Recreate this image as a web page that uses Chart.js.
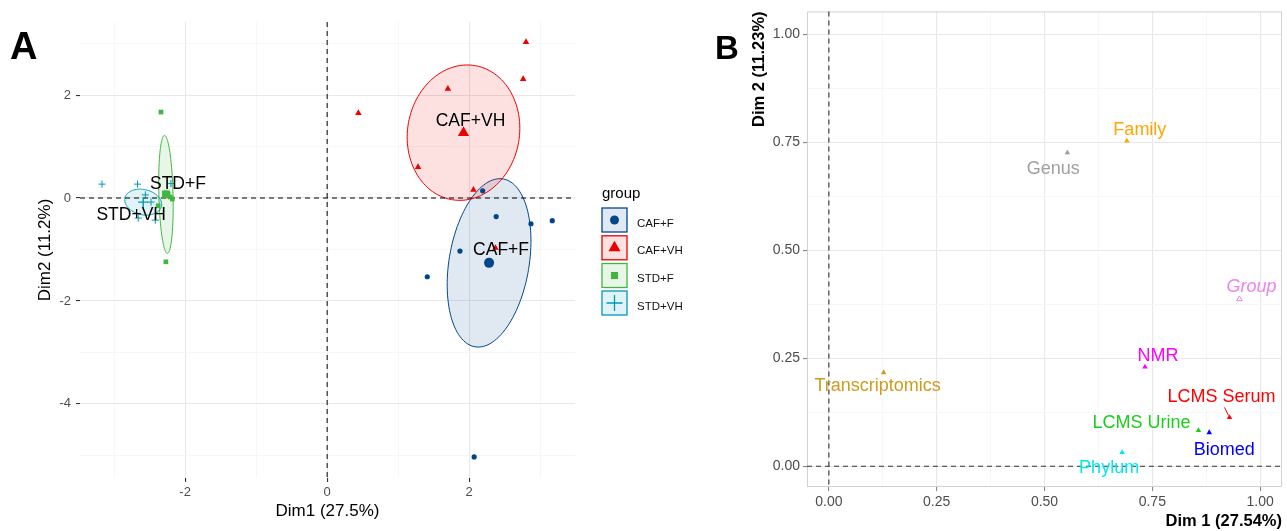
<!DOCTYPE html>
<html>
<head>
<meta charset="utf-8">
<script src="https://cdn.jsdelivr.net/npm/chart.js"></script>
<style>
  body { margin: 0; background: #fff; width: 1287px; height: 531px; overflow: hidden; position: relative; font-family: "Liberation Sans", Arial, sans-serif; }
  #boxA { position: absolute; left: 0; top: 0; width: 700px; height: 531px; }
  #boxB { position: absolute; left: 700px; top: 0; width: 587px; height: 531px; }
  .tag { position: absolute; font-weight: bold; line-height: 1; color: #000; }
</style>
</head>
<body>
<div id="boxA"><canvas id="pca_ind" width="700" height="531"></canvas></div>
<div id="boxB"><canvas id="pca_var" width="587" height="531"></canvas></div>
<div class="tag" style="left:10px;top:27px;font-size:38px">A</div>
<div class="tag" style="left:715px;top:31px;font-size:33px">B</div>
<script>
Chart.defaults.font.family = '"Liberation Sans", Arial, sans-serif';

//Panel A - individuals
const groupNames = ['CAF+F', 'CAF+VH', 'STD+F', 'STD+VH'];
const cafF_dim1  = [2.19, 2.38, 2.87, 3.17, 1.87, 1.41, 2.07];
const cafF_dim2  = [0.14, -0.36, -0.50, -0.44, -1.03, -1.53, -5.03];
const cafVH_dim1 = [2.80, 2.76, 1.70, 0.44, 1.28, 2.06, 2.37];
const cafVH_dim2 = [3.03, 2.31, 2.12, 1.65, 0.60, 0.16, -0.97];
const stdF_dim1  = [-2.34, -2.27, -2.38, -2.18, -2.27, -2.24, -2.21];
const stdF_dim2  = [1.67, 0.10, -0.15, -0.02, -1.24, 0.08, 0.02];
const stdVH_dim1 = [-3.17, -2.67, -2.56, -2.66, -2.42, -2.48, -2.20];
const stdVH_dim2 = [0.27, 0.27, 0.06, -0.39, -0.43, -0.08, 0.28];
const meanDim1 = [2.28, 1.92, -2.27, -2.59];
const meanDim2 = [-1.26, 1.27, 0.07, -0.08];
// ellipse half axes, in Dim1/Dim2 units
const ellipseU = [[0.197, 1.631], [0.169, 1.301], [-0.02, 1.146], [0.254, -0.097]];
const ellipseV = [[0.556, -0.128], [0.775, -0.194], [0.10, 0.0], [-0.056, -0.233]];
const ticksDim1A = [-3, -2, -1, 0, 1, 2, 3];
const labelledDim1A = [-2, 0, 2];
const ticksDim2A = [-5, -4, -3, -2, -1, 0, 1, 2, 3];
const labelledDim2A = [-4, -2, 0, 2];

//Panel B - variables
const varNames = ['Genus', 'Family', 'Group', 'NMR', 'LCMS Serum', 'LCMS Urine', 'Biomed', 'Phylum', 'Transcriptomics'];
const varDim1 = [0.553, 0.691, 0.952, 0.733, 0.929, 0.857, 0.882, 0.680, 0.127];
const varDim2 = [0.726, 0.753, 0.387, 0.230, 0.113, 0.083, 0.078, 0.032, 0.217];
const ticksB = [0, 0.125, 0.25, 0.375, 0.5, 0.625, 0.75, 0.875, 1];
const labelledB = [0, 0.25, 0.5, 0.75, 1];

// styles
const groupColors = ['#00468B', '#ED0000', '#42B540', '#0099B4'];
const groupShapes = ['circle', 'triangle', 'rect', 'cross'];
const groupRadius = [2.6, 3.8, 3.3, 3.6];
const meanRadius = [5, 6.5, 5.5, 5];
const groupLabelShift = [[12, -13], [7, -11], [12, -10], [-12, 13]];
const varColors = ['#A0A0A0', '#FFA500', '#EE82EE', '#FF00FF', '#FF0000', '#1ECC1E', '#0000FF', '#00E8EE', '#CD9B1D'];
const varLabelShift = [[-14, 16], [13, -11], [12, -12], [13, -11], [-8, -20], [-57, -7], [15, 17], [-13, 16], [-6, 14]];

function pts(xs, ys) {
  return xs.map((v, i) => ({x: v, y: ys[i]}));
}
function fade(hex, a) {
  const n = parseInt(hex.slice(1), 16);
  return 'rgba(' + (n >> 16) + ',' + ((n >> 8) & 255) + ',' + (n & 255) + ',' + a + ')';
}

const groupDim1 = [cafF_dim1, cafVH_dim1, stdF_dim1, stdVH_dim1];
const groupDim2 = [cafF_dim2, cafVH_dim2, stdF_dim2, stdVH_dim2];

var datasetsA = [];
groupNames.forEach((g, i) => {
  datasetsA.push({
    label: g,
    data: pts(groupDim1[i], groupDim2[i]),
    pointStyle: groupShapes[i],
    pointRadius: groupRadius[i],
    backgroundColor: groupColors[i],
    borderColor: groupColors[i],
    borderWidth: groupShapes[i] == 'cross' ? 1 : 0,
    showLine: false
  });
  datasetsA.push({
    label: g + ' mean',
    data: [{x: meanDim1[i], y: meanDim2[i]}],
    pointStyle: groupShapes[i],
    pointRadius: meanRadius[i],
    backgroundColor: groupColors[i],
    borderColor: groupColors[i],
    borderWidth: groupShapes[i] == 'cross' ? 1.4 : 0,
    showLine: false
  });
});

const decorA = {
  id: 'decorA',
  beforeDatasetsDraw(chart) {
    const {ctx, chartArea: ca, scales: {x, y}} = chart;
    ctx.save();
    groupNames.forEach((g, i) => {
      ctx.beginPath();
      for (let k = 0; k <= 120; k++) {
        const t = k / 120 * 2 * Math.PI;
        const px = x.getPixelForValue(meanDim1[i] + ellipseU[i][0] * Math.cos(t) + ellipseV[i][0] * Math.sin(t));
        const py = y.getPixelForValue(meanDim2[i] + ellipseU[i][1] * Math.cos(t) + ellipseV[i][1] * Math.sin(t));
        if (k == 0) ctx.moveTo(px, py); else ctx.lineTo(px, py);
      }
      ctx.closePath();
      ctx.fillStyle = fade(groupColors[i], 0.12);
      ctx.fill();
      ctx.lineWidth = 1;
      ctx.strokeStyle = groupColors[i];
      ctx.stroke();
    });
    // zero lines
    const x0 = x.getPixelForValue(0), y0 = y.getPixelForValue(0);
    ctx.strokeStyle = '#000';
    ctx.lineWidth = 1;
    ctx.setLineDash([5, 4]);
    ctx.beginPath();
    ctx.moveTo(x0, ca.top); ctx.lineTo(x0, ca.bottom);
    ctx.moveTo(ca.left, y0); ctx.lineTo(ca.right, y0);
    ctx.stroke();
    ctx.restore();
  },
  afterDatasetsDraw(chart) {
    const {ctx, scales: {x, y}} = chart;
    ctx.save();
    ctx.fillStyle = '#000';
    ctx.font = '17.5px "Liberation Sans", Arial';
    ctx.textAlign = 'center';
    ctx.textBaseline = 'middle';
    groupNames.forEach((g, i) => {
      ctx.fillText(g, x.getPixelForValue(meanDim1[i]) + groupLabelShift[i][0], y.getPixelForValue(meanDim2[i]) + groupLabelShift[i][1]);
    });
    // legend
    ctx.textAlign = 'left';
    ctx.textBaseline = 'alphabetic';
    ctx.font = '15px "Liberation Sans", Arial';
    ctx.fillText('group', 602, 198);
    ctx.font = '11.5px "Liberation Sans", Arial';
    const rows = [220, 247.8, 275.5, 303];
    groupNames.forEach((g, i) => {
      const cy = rows[i];
      ctx.fillStyle = fade(groupColors[i], 0.12);
      ctx.fillRect(602, cy - 12, 25, 24);
      ctx.strokeStyle = groupColors[i];
      ctx.lineWidth = 1.3;
      ctx.strokeRect(602, cy - 12, 25, 24);
      ctx.fillStyle = groupColors[i];
      Chart.helpers.drawPoint(ctx, {
        pointStyle: groupShapes[i],
        radius: [4.5, 7, 5, 8][i],
        rotation: 0,
        borderWidth: groupShapes[i] == 'cross' ? 1 : 0
      }, 614.5, cy);
      ctx.fillStyle = '#111';
      ctx.fillText(g, 637, cy + 6.5);
    });
    ctx.restore();
  }
};

function gridOpts(isMajor, tickCol) {
  return {
    color: c => (c.tick && isMajor(c.tick.value)) ? '#e8e8e8' : '#f4f4f4',
    lineWidth: c => (c.tick && isMajor(c.tick.value)) ? 1.1 : 0.7,
    tickColor: c => (c.tick && isMajor(c.tick.value)) ? tickCol : 'rgba(0,0,0,0)',
    tickLength: 4,
    drawTicks: true
  };
}

var chart_ind = new Chart(document.getElementById('pca_ind'), {
  type: 'scatter',
  data: { datasets: datasetsA },
  plugins: [decorA],
  options: {
    responsive: false,
    animation: false,
    layout: { padding: { left: 30, top: 22, right: 125, bottom: 0 } },
    scales: {
      x: {
        type: 'linear',
        min: -3.48, max: 3.49,
        afterBuildTicks: s => { s.ticks = ticksDim1A.map(v => ({value: v})); },
        afterFit: s => { s.height = 53; },
        ticks: {
          autoSkip: false, maxRotation: 0, padding: 3, color: '#4d4d4d', font: { size: 13 },
          callback: v => labelledDim1A.includes(v) ? String(v) : ''
        },
        grid: gridOpts(v => labelledDim1A.includes(v), '#333'),
        border: { display: false },
        title: { display: true, text: 'Dim1 (27.5%)', color: '#000', font: { size: 17 }, padding: { top: 0, bottom: 9 } }
      },
      y: {
        type: 'linear',
        min: -5.44, max: 3.42,
        afterBuildTicks: s => { s.ticks = ticksDim2A.map(v => ({value: v})); },
        afterFit: s => { s.width = 50; },
        ticks: {
          autoSkip: false, padding: 5, color: '#4d4d4d', font: { size: 13 },
          callback: v => labelledDim2A.includes(v) ? String(v) : ''
        },
        grid: gridOpts(v => labelledDim2A.includes(v), '#333'),
        border: { display: false },
        title: { display: true, text: 'Dim2 (11.2%)', color: '#000', font: { size: 17 }, padding: { top: 5, bottom: 0 } }
      }
    },
    plugins: {
      legend: { display: false },
      tooltip: { enabled: false }
    }
  }
});

//Panel B - variable plot
const decorB = {
  id: 'decorB',
  beforeDatasetsDraw(chart) {
    const {ctx, chartArea: ca, scales: {x, y}} = chart;
    ctx.save();
    ctx.strokeStyle = '#d2d2d2';
    ctx.lineWidth = 1;
    ctx.strokeRect(ca.left + 0.5, ca.top + 0.5, ca.right - ca.left - 1, ca.bottom - ca.top - 1);
    const x0 = x.getPixelForValue(0), y0 = y.getPixelForValue(0);
    ctx.strokeStyle = '#333';
    ctx.lineWidth = 1.1;
    ctx.setLineDash([5, 4]);
    ctx.beginPath();
    ctx.moveTo(x0, ca.top); ctx.lineTo(x0, ca.bottom);
    ctx.moveTo(ca.left, y0); ctx.lineTo(ca.right, y0);
    ctx.stroke();
    ctx.restore();
  },
  afterDatasetsDraw(chart) {
    const {ctx, scales: {x, y}} = chart;
    ctx.save();
    ctx.textAlign = 'center';
    ctx.textBaseline = 'middle';
    varNames.forEach((n, i) => {
      const px = x.getPixelForValue(varDim1[i]), py = y.getPixelForValue(varDim2[i]);
      const lx = px + varLabelShift[i][0], ly = py + varLabelShift[i][1];
      ctx.fillStyle = varColors[i];
      ctx.font = (n == 'Group' ? 'italic ' : '') + '18px "Liberation Sans", Arial';
      ctx.fillText(n, lx, ly);
      if (n == 'LCMS Serum') {
        ctx.strokeStyle = varColors[i];
        ctx.lineWidth = 1;
        ctx.beginPath();
        ctx.moveTo(lx + 3, ly + 10);
        ctx.lineTo(px - 1, py - 2);
        ctx.stroke();
      }
    });
    ctx.restore();
  }
};

var chart_var = new Chart(document.getElementById('pca_var'), {
  type: 'scatter',
  data: {
    datasets: [{
      label: 'variables',
      data: pts(varDim1, varDim2),
      pointStyle: 'triangle',
      pointRadius: 3.2,
      backgroundColor: varNames.map((n, i) => n == 'Group' ? 'rgba(0,0,0,0)' : varColors[i]),
      borderColor: varColors,
      borderWidth: varNames.map(n => n == 'Group' ? 1 : 0),
      showLine: false
    }]
  },
  plugins: [decorB],
  options: {
    responsive: false,
    animation: false,
    layout: { padding: { left: 46, top: 9, right: 2, bottom: 0 } },
    scales: {
      x: {
        type: 'linear',
        min: -0.0507, max: 1.0507,
        afterBuildTicks: s => { s.ticks = ticksB.map(v => ({value: v})); },
        afterFit: s => { s.height = 44; },
        ticks: {
          autoSkip: false, maxRotation: 0, padding: 3, color: '#4d4d4d', font: { size: 14 },
          callback: v => labelledB.includes(v) ? v.toFixed(2) : ''
        },
        grid: gridOpts(v => labelledB.includes(v), '#888'),
        border: { display: false },
        title: { display: true, text: 'Dim 1 (27.54%)', align: 'end', color: '#000', font: { size: 16.5, weight: 'bold' }, padding: { top: 0, bottom: 0 } }
      },
      y: {
        type: 'linear',
        min: -0.048, max: 1.053,
        afterBuildTicks: s => { s.ticks = ticksB.map(v => ({value: v})); },
        afterFit: s => { s.width = 61; },
        ticks: {
          autoSkip: false, padding: 3, color: '#4d4d4d', font: { size: 14 },
          callback: v => labelledB.includes(v) ? v.toFixed(2) : ''
        },
        grid: gridOpts(v => labelledB.includes(v), '#888'),
        border: { display: false },
        title: { display: true, text: 'Dim 2 (11.23%)', align: 'end', color: '#000', font: { size: 16.5, weight: 'bold' }, padding: { top: 4, bottom: 0 } }
      }
    },
    plugins: {
      legend: { display: false },
      tooltip: { enabled: false }
    }
  }
});
</script>
</body>
</html>
